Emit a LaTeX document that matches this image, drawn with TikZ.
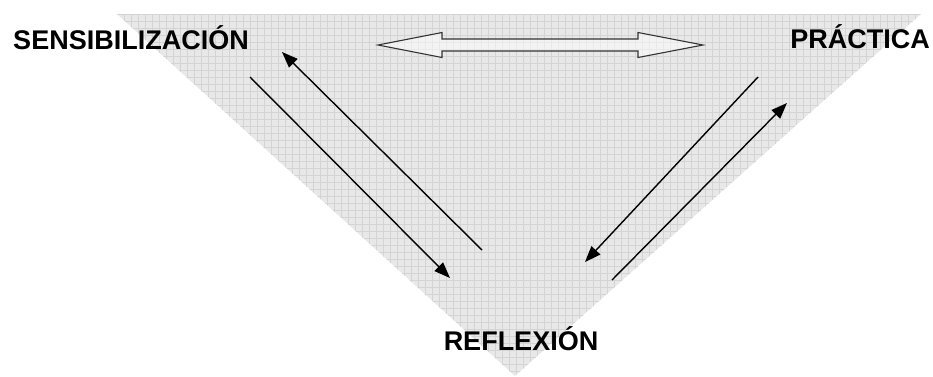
\documentclass[tikz,border=0pt]{standalone}
\usepackage{fontspec}
\setmainfont{Liberation Sans}
\usetikzlibrary{arrows.meta}
\begin{document}
\begin{tikzpicture}[x=1pt,y=-1pt,
  lbl/.style={font=\fontsize{27}{30}\selectfont\bfseries, inner sep=0pt, anchor=base},
  conn/.style={line width=1.4pt, -{Triangle[length=16pt,width=12pt]}},
  gridline/.style={draw=black!17, line width=0.45pt},
  hollow/.style={draw=black!80, fill=white, fill opacity=0.5, line width=1.1pt, line join=miter}]
\useasboundingbox (0,0) rectangle (933,376);
% triangle with grid
\coordinate (tl) at (117,14);
\coordinate (tr) at (921,14);
\coordinate (bt) at (515,376);
\begin{scope}
  \clip (tl) -- (tr) -- (bt) -- cycle;
  \fill[black!9] (tl) -- (tr) -- (bt) -- cycle;
  \foreach \i in {0,...,115} {
    \draw[gridline] (110+\i*7,0) -- (110+\i*7,376);
  }
  \foreach \j in {0,...,55} {
    \draw[gridline] (0,14+\j*7) -- (933,14+\j*7);
  }
\end{scope}
% labels
\node[lbl] (sens) at (131,49) {SENSIBILIZACIÓN};
\node[lbl] (prac) at (860,48) {PRÁCTICA};
\node[lbl] (refl) at (521,350) {REFLEXIÓN};
% double arrow (hollow)
\draw[hollow] (378,45) -- (442,32.5) -- (442,39) -- (638,39) -- (638,32.5)
  -- (703,45) -- (638,57.5) -- (638,51) -- (442,51) -- (442,57.5) -- cycle;
% coordinates for connectors
\coordinate (a1s) at (482,250); \coordinate (a1e) at (282,52);
\coordinate (a2s) at (250,77);  \coordinate (a2e) at (450,278);
\coordinate (a3s) at (758,77);  \coordinate (a3e) at (585,262);
\coordinate (a4s) at (612,280); \coordinate (a4e) at (787,103);
\draw[conn] (a1s) -- (a1e);
\draw[conn] (a2s) -- (a2e);
\draw[conn] (a3s) -- (a3e);
\draw[conn] (a4s) -- (a4e);
\end{tikzpicture}
\end{document}
